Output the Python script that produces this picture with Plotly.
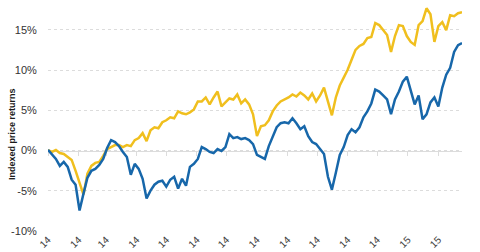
import pandas as pd
import plotly.graph_objects as go

# Dates: one point every 4 days from 1 Jan 2014
dates = pd.date_range("2014-01-01", periods=106, freq="4D")

# Indexed price returns (%)
blue_vals = [
    0.1, -0.43, -1.05, -1.91, -1.42, -2.03, -3.63, -4.25, -7.45, -5.36,
    -3.39, -2.52, -2.28, -1.79, -1.05, 0.31, 1.29, 1.05, 0.55, -0.18,
    -0.80, -3.02, -1.66, -2.28, -3.51, -5.97, -4.99, -4.25, -3.88, -3.76,
    -4.50, -3.63, -3.26, -4.74, -3.51, -4.37, -2.03, -1.66, -1.05, 0.43,
    0.18, -0.18, -0.31, 0.18, -0.06, 0.43, 2.03, 1.54, 1.66, 1.42,
    1.54, 1.29, 0.80, -0.55, -0.80, -1.05, 0.55, 1.79, 2.89, 3.39,
    3.51, 3.39, 4.00, 3.39, 2.65, 3.02, 1.79, 1.05, 0.80, 0.18,
    -0.43, -3.26, -4.86, -2.77, -0.55, 0.43, 1.91, 2.65, 2.28, 2.89,
    4.13, 4.86, 5.85, 7.57, 7.33, 6.84, 6.34, 4.50, 6.34, 7.33,
    8.56, 9.17, 7.57, 5.73, 6.84, 3.88, 4.50, 5.97, 6.59, 5.48,
    7.82, 9.42, 10.28, 12.25, 13.10, 13.36,
]
yellow_vals = [
    0.06, -0.18, 0.06, -0.31, -0.43, -0.80, -1.17, -2.52, -4.13, -5.48,
    -2.89, -1.91, -1.54, -1.42, -0.68, 0.18, 0.43, 0.68, 0.68, 0.43,
    0.68, 0.55, 1.29, 1.54, 2.16, 1.17, 2.52, 2.89, 2.77, 3.51,
    3.76, 4.13, 4.00, 4.86, 4.62, 4.50, 4.74, 5.11, 6.10, 6.10,
    6.59, 5.73, 6.59, 7.33, 5.48, 5.97, 6.47, 6.34, 6.96, 5.85,
    6.34, 5.73, 4.50, 1.79, 3.02, 3.14, 3.76, 4.86, 5.60, 6.10,
    6.34, 6.59, 6.96, 6.71, 7.20, 6.84, 6.34, 7.08, 6.10, 6.84,
    7.82, 5.97, 4.37, 6.59, 8.07, 9.05, 10.04, 11.27, 12.50, 12.99,
    13.24, 13.98, 14.10, 15.83, 15.58, 14.96, 14.35, 12.25, 14.22, 15.58,
    15.46, 14.22, 13.49, 13.12, 15.58, 16.07, 17.67, 16.93, 13.49, 15.46,
    15.95, 14.96, 16.81, 16.69, 17.06, 17.18,
]

y_tickvals = [-10, -5, 0, 5, 10, 15]
y_ticktext = ["-10%", "-5%", "0%", "5%", "10%", "15%"]
y_title = "Indexed price returns"

x_range = ["2014-01-01", "2015-02-25"]
y_range = [-10, 18.7]

YELLOW = "#F0BF1E"
BLUE = "#1767AA"
GRID = "#dcdcdc"

fig = go.Figure()
fig.add_trace(go.Scatter(x=dates, y=yellow_vals, mode="lines",
                         line=dict(color=YELLOW, width=2.5), hoverinfo="skip"))
fig.add_trace(go.Scatter(x=dates, y=blue_vals, mode="lines",
                         line=dict(color=BLUE, width=2.5), hoverinfo="skip"))
# invisible trace to carry the zero-line axis with tick marks
fig.add_trace(go.Scatter(x=dates, y=blue_vals, mode="lines", xaxis="x2",
                         line=dict(width=0), opacity=0, hoverinfo="skip"))

fig.update_layout(
    width=480, height=252,
    margin=dict(l=48, r=18, t=0, b=21),
    paper_bgcolor="white", plot_bgcolor="white",
    showlegend=False,
    font=dict(family="Liberation Sans, Arial, sans-serif", color="#333333"),
    xaxis=dict(
        range=x_range, type="date",
        tick0="2014-01-01", dtick="M1", tickformat="%y",
        tickangle=-45, tickfont=dict(size=10, color="#404040"),
        showgrid=False, zeroline=False, showline=False,
        ticks="", automargin=False,
    ),
    xaxis2=dict(
        range=x_range, type="date", overlaying="x", anchor="free",
        position=(0 - y_range[0]) / (y_range[1] - y_range[0]),
        tick0="2014-01-01", dtick="M1",
        showticklabels=False, showgrid=False, zeroline=False,
        showline=True, linecolor=GRID, linewidth=1,
        ticks="outside", ticklen=4, tickcolor=GRID, tickwidth=1,
        layer="below traces",
    ),
    yaxis=dict(
        range=y_range, tickvals=y_tickvals, ticktext=y_ticktext,
        tickfont=dict(size=11, color="#333333"),
        showgrid=True, gridcolor=GRID, griddash="dot", gridwidth=1,
        zeroline=False, showline=False,
        ticks="outside", ticklen=8, tickcolor="rgba(0,0,0,0)",
        automargin=False,
    ),
    annotations=[dict(
        text="<b>" + y_title + "</b>", textangle=-90,
        xref="paper", yref="paper", x=-0.087, y=0.42,
        xanchor="center", yanchor="middle", showarrow=False,
        font=dict(size=9, color="#1a1a1a"),
    )],
)

fig.write_html("out.html")
